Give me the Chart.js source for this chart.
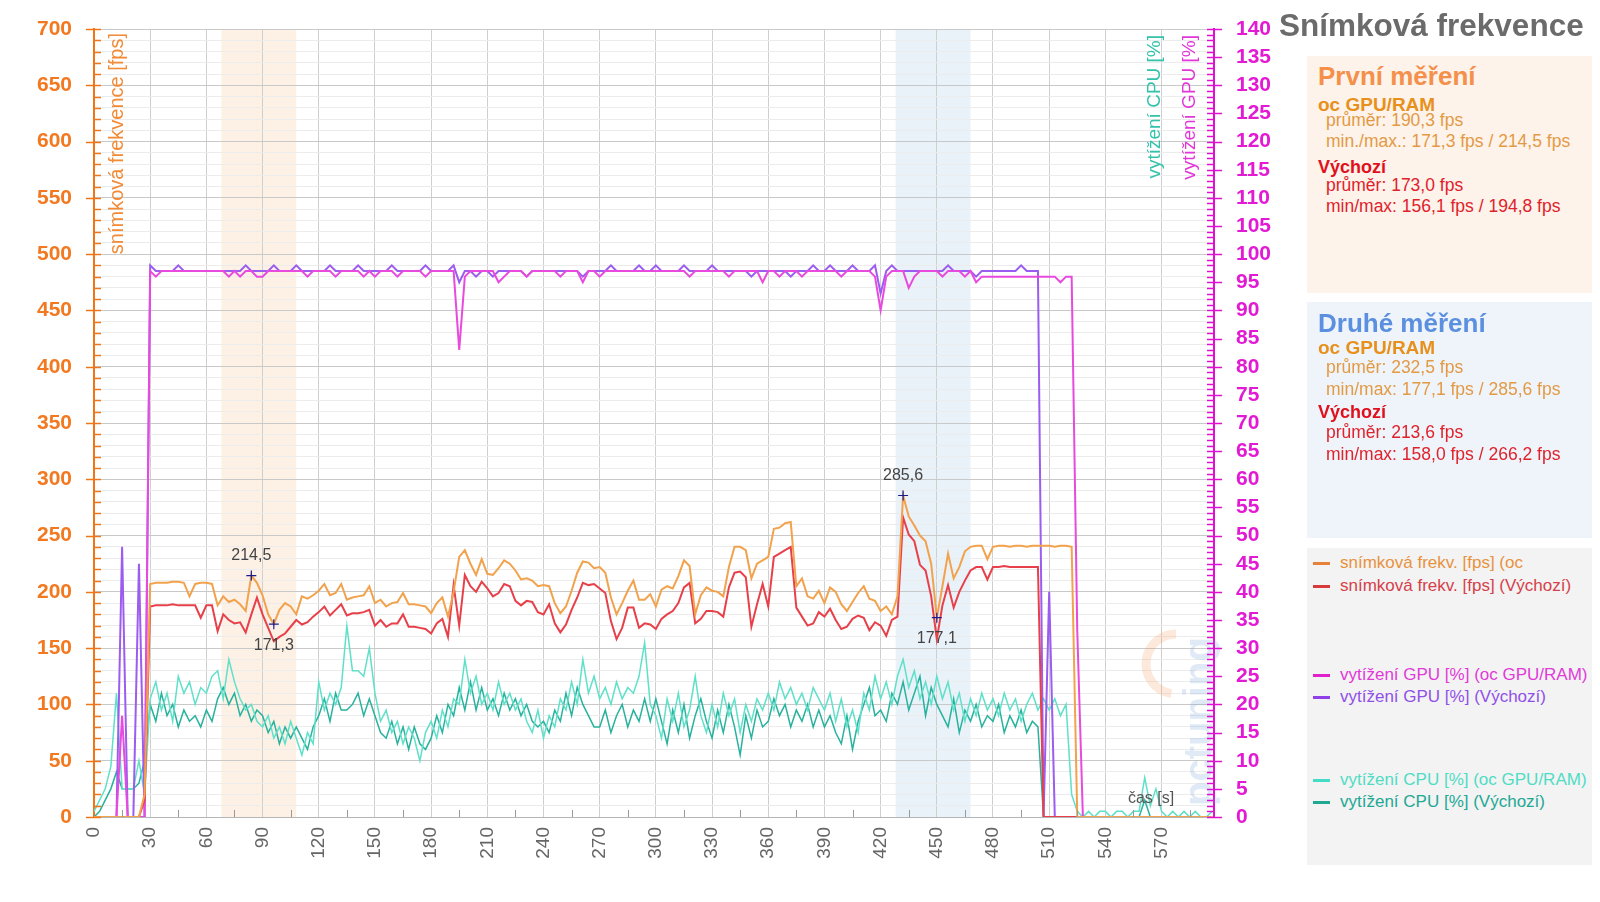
<!DOCTYPE html>
<html lang="cs">
<head>
<meta charset="utf-8">
<title>Snímková frekvence</title>
<script src="https://cdn.jsdelivr.net/npm/chart.js@4.4.1/dist/chart.umd.min.js"></script>
<style>
  html, body { margin: 0; padding: 0; background: #fff; }
  body { width: 1600px; height: 902px; position: relative; overflow: hidden;
         font-family: "Liberation Sans", Arial, sans-serif; }
  #graf { position: absolute; left: 0; top: 0; }
  .t { position: absolute; white-space: nowrap; line-height: 1; }
  .box { position: absolute; left: 1307px; width: 285px; }
  .h { font-weight: bold; font-size: 26px; left: 1318px; }
  .sub { font-weight: bold; font-size: 19px; left: 1318px; }
  .oc { color: #e8901c; }
  .def { color: #e0101c; }
  .ln { font-size: 17.5px; left: 1326px; }
  .ln.oc { color: #e39a45; }
  .ln.def { color: #e0222c; }
  .lg { font-size: 17px; left: 1340px; }
  .mk { position: absolute; left: 1313px; width: 17px; height: 3px; }
</style>
</head>
<body>
<canvas id="graf" width="1600" height="902"></canvas>

<div class="t" style="left:1279px; top:10px; font-size:31.5px; font-weight:bold; color:#6b6b6b;">Snímková frekvence</div>

<!-- první měření -->
<div class="box" style="top:56px; height:237px; background:#fdf3ea;"></div>
<div class="t h" style="top:63px; color:#f4904a;">První měření</div>
<div class="t sub oc" style="top:95px;">oc GPU/RAM</div>
<div class="t ln oc" style="top:112px;">průměr: 190,3 fps</div>
<div class="t ln oc" style="top:133px;">min./max.: 171,3 fps / 214,5 fps</div>
<div class="t sub def" style="top:158px; font-size:18px;">Výchozí</div>
<div class="t ln def" style="top:177px;">průměr: 173,0 fps</div>
<div class="t ln def" style="top:198px;">min/max: 156,1 fps / 194,8 fps</div>

<!-- druhé měření -->
<div class="box" style="top:302px; height:236px; background:#eef4fa;"></div>
<div class="t h" style="top:310px; color:#5b8fdf;">Druhé měření</div>
<div class="t sub oc" style="top:338px;">oc GPU/RAM</div>
<div class="t ln oc" style="top:359px;">průměr: 232,5 fps</div>
<div class="t ln oc" style="top:381px;">min/max: 177,1 fps / 285,6 fps</div>
<div class="t sub def" style="top:403px; font-size:18px;">Výchozí</div>
<div class="t ln def" style="top:424px;">průměr: 213,6 fps</div>
<div class="t ln def" style="top:446px;">min/max: 158,0 fps / 266,2 fps</div>

<!-- legenda -->
<div class="box" style="top:548px; height:317px; background:#f3f3f3;"></div>
<div class="mk" style="top:562px; background:#e8823a;"></div>
<div class="t lg" style="top:554px; color:#e8923e;">snímková frekv. [fps] (oc</div>
<div class="mk" style="top:585px; background:#d83a3a;"></div>
<div class="t lg" style="top:577px; color:#d6404a;">snímková frekv. [fps] (Výchozí)</div>
<div class="mk" style="top:674px; background:#e020cc;"></div>
<div class="t lg" style="top:666px; color:#e03ad8;">vytížení GPU [%] (oc GPU/RAM)</div>
<div class="mk" style="top:696px; background:#9040e8;"></div>
<div class="t lg" style="top:688px; color:#9050e8;">vytížení GPU [%] (Výchozí)</div>
<div class="mk" style="top:779px; background:#44dcc6;"></div>
<div class="t lg" style="top:771px; color:#50dcc4;">vytížení CPU [%] (oc GPU/RAM)</div>
<div class="mk" style="top:801px; background:#1fa892;"></div>
<div class="t lg" style="top:793px; color:#22a894;">vytížení CPU [%] (Výchozí)</div>

<script>
// vzorky po 3 s, 0 až 597 s (jeden řádek = 30 s)
const KROK = 3;
const casy = Array.from({ length: 200 }, (_, i) => i * KROK);

const popiskyCas = [0, 30, 60, 90, 120, 150, 180, 210, 240, 270, 300, 330, 360, 390, 420, 450, 480, 510, 540, 570];
const popiskyFps = [0, 50, 100, 150, 200, 250, 300, 350, 400, 450, 500, 550, 600, 650, 700];
const popiskyPct = [0, 5, 10, 15, 20, 25, 30, 35, 40, 45, 50, 55, 60, 65, 70, 75, 80, 85, 90, 95, 100, 105, 110, 115, 120, 125, 130, 135, 140];

// úseky měření (s)
const oknaOd = [68, 428];
const oknaDo = [108, 468];

const fpsOc = [
  0, 0, 0, 0, 0, 0, 0, 0, 0, 20,
  207, 208, 208, 208, 209, 209, 208, 196, 207, 208,
  208, 207, 188, 196, 191, 193, 189, 183, 214.5, 208,
  197, 180, 171.3, 184, 190, 187, 180, 196, 194, 197,
  201, 207, 197, 199, 207, 193, 195, 196, 197, 205,
  190, 193, 187, 190, 191, 199, 189, 189, 188, 187,
  181, 190, 195, 178, 200, 231, 237, 225, 215, 229,
  216, 215, 221, 228, 225, 219, 211, 212, 210, 205,
  206, 205, 190, 181, 187, 201, 217, 227, 226, 221,
  222, 217, 195, 180, 190, 201, 210, 193, 193, 198,
  187, 202, 205, 203, 214, 228, 223, 180, 197, 204,
  201, 200, 196, 222, 240, 240, 237, 212, 225, 228,
  231, 256, 257, 261, 262, 205, 212, 196, 194, 201,
  190, 204, 200, 189, 183, 191, 199, 205, 194, 192,
  183, 187, 180, 196, 285.6, 267, 259, 250, 245, 225,
  177.1, 205, 234, 212, 222, 236, 240, 241, 241, 229,
  240, 241, 241, 240, 241, 241, 240, 241, 241, 241,
  241, 240, 241, 241, 240, 0, 0, 0, 0, 0,
  0, 0, 0, 0, 0, 0, 0, 0, 0, 0,
  0, 0, 0, 0, 0, 0, 0, 0, 0, 0
];

const fpsVychozi = [
  0, 0, 0, 0, 0, 0, 0, 0, 0, 15,
  187, 188, 188, 188, 189, 188, 188, 188, 188, 177,
  188, 188, 165, 180, 175, 172, 173, 164, 180, 194.8,
  180, 168, 156.1, 160, 163, 169, 175, 171, 173, 178,
  182, 187, 179, 184, 189, 179, 181, 181, 182, 184,
  170, 175, 169, 172, 172, 180, 169, 169, 168, 167,
  163, 172, 176, 160, 206, 170, 215, 205, 200, 209,
  203, 196, 199, 207, 205, 192, 188, 192, 191, 182,
  180, 189, 172, 164, 171, 184, 195, 208, 206, 207,
  203, 199, 174, 158, 168, 186, 186, 168, 172, 171,
  167, 176, 180, 183, 190, 204, 208, 172, 176, 183,
  183, 182, 178, 204, 217, 218, 213, 169, 189, 207,
  187, 231, 234, 237, 240, 186, 178, 170, 172, 182,
  178, 185, 175, 167, 169, 176, 179, 177, 166, 173,
  170, 161, 175, 178, 266.2, 251, 245, 224, 219, 196,
  158.0, 188, 206, 186, 200, 210, 219, 222, 222, 211,
  222, 222, 223, 222, 222, 222, 222, 222, 222, 0,
  0, 0, 0, 0, 0, 0, 0, 0, 0, 0,
  0, 0, 0, 0, 0, 0, 0, 0, 0, 0,
  0, 0, 0, 0, 0, 0, 0, 0, 0, 0
];

const gpuOc = [
  0, 0, 0, 0, 0, 18, 0, 0, 0, 0,
  97, 96, 97, 97, 97, 97, 97, 97, 97, 97,
  97, 97, 97, 97, 96, 97, 96, 97, 97, 96,
  96, 97, 97, 97, 97, 97, 97, 97, 96, 97,
  97, 97, 97, 96, 97, 97, 97, 97, 96, 97,
  96, 97, 97, 97, 96, 97, 97, 97, 97, 96,
  97, 97, 97, 97, 97, 83, 96, 97, 97, 97,
  97, 97, 95, 96, 97, 97, 97, 96, 97, 97,
  97, 97, 97, 96, 97, 97, 97, 95, 97, 97,
  96, 97, 97, 97, 97, 97, 97, 97, 97, 97,
  97, 97, 97, 97, 97, 97, 96, 97, 97, 97,
  97, 97, 97, 96, 97, 97, 97, 97, 97, 95,
  97, 97, 96, 97, 97, 97, 96, 97, 97, 97,
  97, 97, 97, 96, 97, 97, 97, 97, 97, 96,
  90, 96, 97, 97, 97, 94, 96, 97, 97, 97,
  97, 96, 97, 97, 97, 96, 97, 95, 96, 96,
  96, 96, 96, 96, 96, 96, 96, 96, 96, 96,
  96, 96, 95, 96, 96, 33, 0, 0, 0, 0,
  0, 0, 0, 0, 0, 0, 0, 0, 0, 0,
  0, 0, 0, 0, 0, 0, 0, 0, 0, 0
];

const gpuVychozi = [
  0, 0, 0, 0, 0, 48, 0, 0, 45, 0,
  98, 97, 97, 97, 97, 98, 97, 97, 97, 97,
  97, 97, 97, 97, 97, 97, 97, 98, 97, 97,
  97, 97, 98, 97, 97, 97, 98, 97, 97, 97,
  97, 97, 98, 97, 97, 97, 97, 98, 97, 97,
  97, 97, 97, 98, 97, 97, 97, 97, 97, 98,
  97, 97, 97, 97, 98, 95, 97, 97, 96, 97,
  97, 96, 97, 97, 97, 97, 97, 96, 97, 97,
  97, 97, 97, 97, 97, 97, 97, 96, 97, 97,
  97, 97, 98, 97, 97, 97, 97, 98, 97, 97,
  98, 97, 97, 97, 97, 98, 97, 97, 97, 97,
  98, 97, 97, 97, 97, 97, 97, 96, 97, 97,
  97, 97, 97, 97, 96, 97, 97, 97, 98, 97,
  97, 98, 97, 97, 97, 98, 97, 97, 97, 98,
  93, 97, 98, 97, 97, 97, 97, 97, 97, 97,
  97, 97, 98, 97, 97, 97, 97, 96, 97, 97,
  97, 97, 97, 97, 97, 98, 97, 97, 97, 0,
  40, 0, 0, 0, 0, 0, 0, 0, 0, 0,
  0, 0, 0, 0, 0, 0, 0, 0, 0, 0,
  0, 0, 0, 0, 0, 0, 0, 0, 0, 0
];

const cpuOc = [
  1, 3, 5, 9, 22, 5, 5, 5, 10, 4,
  21, 24, 19, 22, 17, 25, 22, 24, 20, 23,
  22, 25, 26, 21, 28, 24, 21, 19, 20, 17,
  16, 18, 14, 16, 13, 17, 14, 11, 15, 13,
  24, 19, 22, 20, 23, 34, 26, 26, 25, 30,
  22, 17, 19, 15, 17, 13, 16, 14, 10, 15,
  17, 14, 19, 16, 21, 20, 28, 22, 25, 20,
  22, 19, 24, 20, 22, 19, 21, 17, 15, 19,
  14, 18, 16, 21, 19, 24, 20, 28, 22, 25,
  21, 23, 20, 24, 21, 23, 22, 25, 31, 20,
  18, 14, 21, 17, 22, 16, 19, 25, 18, 15,
  20, 16, 22, 18, 21, 15, 20, 17, 21, 19,
  22, 19, 24, 21, 23, 20, 22, 19, 23, 21,
  19, 22, 17, 21, 16, 19, 15, 22, 19, 25,
  21, 24, 20, 25, 28, 23, 26, 21, 24, 20,
  25, 21, 24, 19, 22, 17, 21, 18, 22, 19,
  21, 18, 22, 19, 21, 17, 20, 22, 19, 21,
  19, 21, 18, 20, 4, 1, 0, 1, 0, 1,
  1, 0, 1, 1, 0, 1, 1, 7, 2, 5,
  1, 0, 1, 0, 1, 0, 1, 0, 0, 1
];

const cpuVychozi = [
  0, 1, 3, 5, 8, 5, 5, 5, 6, 10,
  20, 17, 22, 18, 20, 16, 19, 17, 18, 16,
  19, 17, 21, 23, 20, 22, 18, 20, 17, 19,
  18, 15, 17, 13, 16, 14, 16, 14, 12, 16,
  18, 21, 17, 22, 19, 19, 20, 22, 18, 21,
  18, 15, 14, 17, 13, 16, 12, 16, 13, 12,
  14, 18, 15, 20, 18, 23, 19, 24, 19, 23,
  19, 21, 18, 22, 19, 21, 18, 20, 17, 16,
  17, 15, 19, 17, 22, 18, 23, 20, 18, 16,
  16, 19, 15, 18, 20, 16, 19, 17, 21, 17,
  21, 17, 13, 19, 15, 20, 14, 18, 21, 17,
  14, 19, 15, 20, 16, 11, 18, 14, 19, 16,
  17, 21, 18, 20, 16, 19, 17, 20, 16, 19,
  16, 18, 15, 13, 18, 12, 17, 20, 23, 18,
  19, 17, 22, 20, 24, 19, 22, 25, 18, 23,
  20, 18, 16, 21, 15, 19, 17, 20, 16, 18,
  17, 20, 15, 18, 16, 19, 15, 17, 16, 0,
  0, 0, 0, 0, 0, 0, 0, 0, 0, 0,
  0, 0, 0, 0, 0, 0, 0, 3, 0, 0,
  0, 0, 0, 0, 0, 0, 0, 0, 0, 0
];

const serie = vals => vals.map((v, i) => ({ x: casy[i], y: v }));
const carka = v => v.toFixed(1).replace('.', ',');

// pozadí úseků, ručně kreslené osy, popisky a značky extrémů
const dekor = {
  id: 'dekor',
  beforeDraw(chart) {
    const { ctx, chartArea: a, scales: { x } } = chart;
    const barvy = ['#fdf1e6', '#e9f1f9'];
    ctx.save();
    oknaOd.forEach((od, i) => {
      const x0 = x.getPixelForValue(od), x1 = x.getPixelForValue(oknaDo[i]);
      ctx.fillStyle = barvy[i];
      ctx.fillRect(x0, a.top, x1 - x0, a.bottom - a.top);
    });
    ctx.restore();
  },
  beforeDatasetsDraw(chart) {
    // vodoznak
    const { ctx } = chart;
    ctx.save();
    ctx.globalAlpha = 0.22;
    ctx.strokeStyle = '#f29a5a';
    ctx.lineWidth = 9;
    ctx.beginPath();
    ctx.arc(1176, 664, 30, Math.PI * 0.55, Math.PI * 1.5);
    ctx.stroke();
    ctx.fillStyle = '#6f9fd4';
    ctx.font = 'bold 40px "Liberation Sans", Arial';
    ctx.translate(1212, 806);
    ctx.rotate(-Math.PI / 2);
    ctx.textAlign = 'left';
    ctx.textBaseline = 'alphabetic';
    ctx.fillText('pctuning', 0, 0);
    ctx.restore();
  },
  afterDraw(chart) {
    const { ctx, chartArea: a, scales: { x, y, y1 } } = chart;
    ctx.save();

    // levá osa
    ctx.strokeStyle = '#f07418';
    ctx.lineWidth = 1.5;
    for (let v = 0; v <= 700; v += 10) {
      const py = Math.round(y.getPixelForValue(v)) + 0.5;
      const velka = popiskyFps.includes(v);
      ctx.beginPath();
      ctx.moveTo(velka ? a.left - 8 : a.left, py);
      ctx.lineTo(a.left + 7, py);
      ctx.stroke();
    }
    // pravá osa
    ctx.strokeStyle = '#e010d0';
    for (let v = 0; v <= 140; v += 1) {
      const py = Math.round(y1.getPixelForValue(v)) + 0.5;
      const velka = popiskyPct.includes(v);
      ctx.beginPath();
      ctx.moveTo(a.right - 7, py);
      ctx.lineTo(velka ? a.right + 8 : a.right, py);
      ctx.stroke();
    }
    // vedlejší značky na ose času
    ctx.strokeStyle = '#9a9a9a';
    ctx.lineWidth = 1;
    for (let v = 15; v < 598; v += 30) {
      const px = Math.round(x.getPixelForValue(v)) + 0.5;
      ctx.beginPath();
      ctx.moveTo(px, a.bottom);
      ctx.lineTo(px, a.bottom - 7);
      ctx.stroke();
    }

    // názvy os uvnitř grafu
    const svisle = (text, px, py, barva) => {
      ctx.save();
      ctx.translate(px, py);
      ctx.rotate(-Math.PI / 2);
      ctx.textAlign = 'right';
      ctx.textBaseline = 'middle';
      ctx.fillStyle = barva;
      ctx.fillText(text, 0, 0);
      ctx.restore();
    };
    ctx.font = '20px "Liberation Sans", Arial';
    svisle('snímková frekvence [fps]', 117, 33, '#f28a36');
    ctx.font = '19px "Liberation Sans", Arial';
    svisle('vytížení CPU [%]', 1155, 35, '#33c2aa');
    svisle('vytížení GPU [%]', 1190, 35, '#e236d8');

    ctx.font = '16px "Liberation Sans", Arial';
    ctx.fillStyle = '#555';
    ctx.textAlign = 'center';
    ctx.textBaseline = 'middle';
    ctx.fillText('čas [s]', 1151, 799);

    // max a min oc fps v obou úsecích
    const znacka = (s, v, nahoru) => {
      const px = x.getPixelForValue(s), py = y.getPixelForValue(v);
      ctx.strokeStyle = '#1c1c8c';
      ctx.lineWidth = 1.2;
      ctx.beginPath();
      ctx.moveTo(px - 5, py); ctx.lineTo(px + 5, py);
      ctx.moveTo(px, py - 5); ctx.lineTo(px, py + 5);
      ctx.stroke();
      ctx.fillStyle = '#444';
      ctx.font = '16px "Liberation Sans", Arial';
      ctx.fillText(carka(v), px, nahoru ? py - 20 : py + 21);
    };
    oknaOd.forEach((od, i) => {
      let iMax = -1, iMin = -1;
      casy.forEach((s, j) => {
        if (s < od || s > oknaDo[i]) return;
        if (iMax < 0 || fpsOc[j] > fpsOc[iMax]) iMax = j;
        if (iMin < 0 || fpsOc[j] < fpsOc[iMin]) iMin = j;
      });
      znacka(casy[iMax], fpsOc[iMax], true);
      znacka(casy[iMin], fpsOc[iMin], false);
    });

    ctx.restore();
  }
};

const cara = (data, barva, osa, sirka) => ({
  data: serie(data),
  borderColor: barva,
  backgroundColor: barva,
  borderWidth: sirka,
  pointRadius: 0,
  tension: 0,
  fill: false,
  yAxisID: osa
});

new Chart(document.getElementById('graf'), {
  type: 'line',
  data: {
    datasets: [
      cara(fpsOc, '#f2a24c', 'y', 2),
      cara(fpsVychozi, '#e8404a', 'y', 2),
      cara(gpuOc, '#e84ade', 'y1', 2),
      cara(gpuVychozi, '#9b5cf0', 'y1', 2),
      cara(cpuOc, '#5fe0c9', 'y1', 1.5),
      cara(cpuVychozi, '#27b29e', 'y1', 1.5)
    ]
  },
  options: {
    responsive: false,
    animation: false,
    devicePixelRatio: 1,
    layout: { padding: { top: 29, right: 310, left: 0, bottom: 0 } },
    plugins: { legend: { display: false }, tooltip: { enabled: false } },
    scales: {
      x: {
        type: 'linear',
        min: 0,
        max: 598,
        afterFit: s => { s.height = 85; },
        border: { color: '#b5b5b5', width: 1 },
        grid: { color: '#cfcfcf', drawTicks: false },
        ticks: {
          stepSize: 30,
          includeBounds: false,
          autoSkip: false,
          minRotation: 90,
          maxRotation: 90,
          padding: 10,
          color: '#666',
          font: { family: '"Liberation Sans", Arial', size: 19 },
          callback: v => popiskyCas.includes(v) ? String(v) : ''
        }
      },
      y: {
        position: 'left',
        min: 0,
        max: 700,
        afterFit: s => { s.width = 94; },
        border: { color: '#f07418', width: 2 },
        grid: {
          drawTicks: true,
          tickLength: 14,
          tickColor: 'rgba(0,0,0,0)',
          color: c => (c.tick && c.tick.value % 50 === 0) ? '#c9c9c9' : '#ececec'
        },
        ticks: {
          stepSize: 10,
          autoSkip: false,
          padding: 8,
          color: '#f27920',
          font: { family: '"Liberation Sans", Arial', size: 21, weight: 'bold' },
          callback: v => popiskyFps.includes(v) ? String(v) : ''
        }
      },
      y1: {
        position: 'right',
        min: 0,
        max: 140,
        afterFit: s => { s.width = 76; },
        border: { color: '#e010d0', width: 2 },
        grid: { drawOnChartArea: false, drawTicks: true, tickLength: 14, tickColor: 'rgba(0,0,0,0)' },
        ticks: {
          stepSize: 5,
          autoSkip: false,
          padding: 8,
          color: '#e21ad4',
          font: { family: '"Liberation Sans", Arial', size: 21, weight: 'bold' },
          callback: v => popiskyPct.includes(v) ? String(v) : ''
        }
      }
    }
  },
  plugins: [dekor]
});
</script>
</body>
</html>
